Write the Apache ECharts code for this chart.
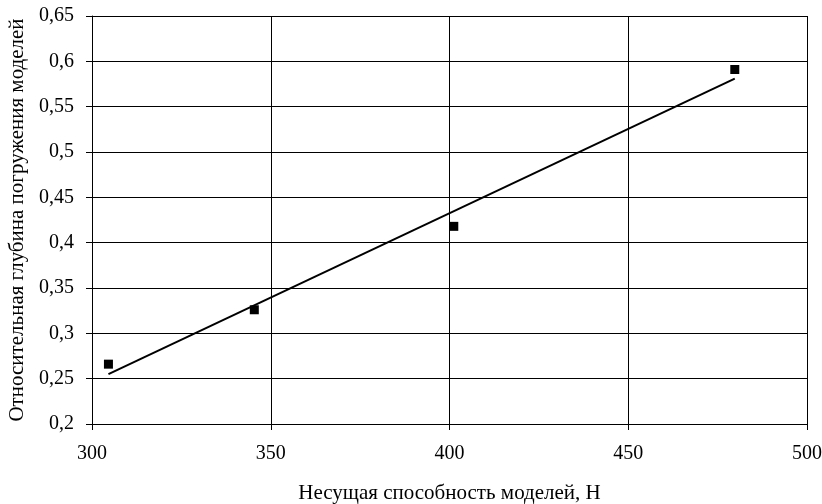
<!DOCTYPE html>
<html>
<head>
<meta charset="utf-8">
<script src="https://cdn.jsdelivr.net/npm/echarts@6/dist/echarts.min.js"></script>
<style>html,body{margin:0;padding:0;background:#fff;}#c{width:822px;height:504px;}</style>
</head>
<body>
<div id="c"></div>
<script>
var loadValues = [304.6, 345.4, 401.2, 479.8];
var depthValues = [0.266, 0.326, 0.418, 0.591];
var trendX = [304.6, 479.8];
var trendY = [0.255, 0.581];
var xTitle = 'Несущая способность моделей, Н';
var yTitle = 'Относительная глубина погружения моделей';

var pts = loadValues.map(function (v, i) { return [v, depthValues[i]]; });
var trend = trendX.map(function (v, i) { return [v, trendY[i]]; });
var font = 'Liberation Serif, Times New Roman, serif';

var chart = echarts.init(document.getElementById('c'));
chart.setOption({
  animation: false,
  backgroundColor: '#fff',
  grid: { left: 92, right: 15, top: 16, bottom: 80, containLabel: false, outerBoundsMode: 'none' },
  xAxis: {
    type: 'value', min: 300, max: 500, interval: 50,
    name: xTitle, nameLocation: 'middle', nameGap: 59,
    nameTextStyle: { color: '#000', fontFamily: font, fontSize: 21 },
    axisLine: { show: true, lineStyle: { color: '#000', width: 1 } },
    axisTick: { show: true, length: 6, lineStyle: { color: '#000' } },
    axisLabel: { color: '#000', fontFamily: font, fontSize: 20, margin: 20 },
    splitLine: { show: true, lineStyle: { color: '#000', width: 1 } }
  },
  yAxis: {
    type: 'value', min: 0.2, max: 0.65, interval: 0.05,
    name: yTitle, nameLocation: 'middle', nameGap: 64,
    nameTextStyle: { color: '#000', fontFamily: font, fontSize: 21 },
    axisLine: { show: true, lineStyle: { color: '#000', width: 1 } },
    axisTick: { show: true, length: 6, lineStyle: { color: '#000' } },
    axisLabel: {
      color: '#000', fontFamily: font, fontSize: 20, margin: 18,
      formatter: function (v) { return parseFloat(v.toFixed(2)).toString().replace('.', ','); }
    },
    splitLine: { show: true, lineStyle: { color: '#000', width: 1 } }
  },
  series: [
    {
      type: 'line', data: trend, symbol: 'none',
      lineStyle: { color: '#000', width: 2 }, z: 2
    },
    {
      type: 'scatter', data: pts, symbol: 'rect', symbolSize: 9,
      itemStyle: { color: '#000', opacity: 1 }, z: 3
    }
  ]
});
</script>
</body>
</html>
